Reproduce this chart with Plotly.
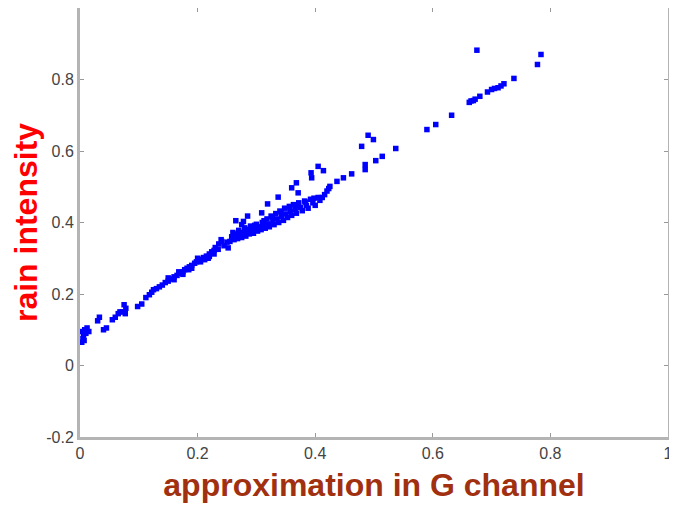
import plotly.graph_objects as go

# Estimated scatter points: approximation in G channel (x) vs rain intensity (y)
x_vals = [
    0.003, 0.005, 0.006, 0.004, 0.008, 0.010, 0.012, 0.007, 0.015,
    0.030, 0.033, 0.040, 0.045,
    0.055, 0.060, 0.065, 0.068, 0.075, 0.078, 0.072, 0.077,
    0.098, 0.105,
    0.112, 0.118, 0.122, 0.125, 0.130, 0.135, 0.140, 0.145, 0.150, 0.155,
    0.160, 0.165, 0.170, 0.175, 0.178, 0.182, 0.186, 0.190, 0.195, 0.198,
    0.202, 0.206, 0.210, 0.215, 0.220, 0.224, 0.228,
    0.150, 0.168, 0.185, 0.200, 0.212, 0.220, 0.160, 0.175, 0.190, 0.205,
    0.218, 0.228, 0.235, 0.245, 0.240, 0.250,
    0.230, 0.236, 0.241, 0.252, 0.269, 0.275,
    0.255, 0.258, 0.260, 0.262, 0.265, 0.268, 0.270, 0.272, 0.275, 0.278,
    0.280, 0.282, 0.285, 0.288, 0.290, 0.292, 0.295, 0.298, 0.300, 0.302,
    0.305, 0.308, 0.310, 0.312, 0.315, 0.318, 0.320, 0.322, 0.325, 0.328,
    0.330, 0.333, 0.335, 0.338, 0.340, 0.343, 0.346, 0.348, 0.350, 0.353,
    0.356, 0.358, 0.360, 0.363, 0.366, 0.368, 0.372, 0.375, 0.378, 0.382,
    0.385, 0.388, 0.392, 0.396, 0.400, 0.405, 0.408, 0.412, 0.416, 0.420,
    0.423,
    0.278, 0.309, 0.319, 0.337, 0.360, 0.368, 0.371, 0.393, 0.394, 0.405,
    0.414, 0.479, 0.490, 0.499, 0.265, 0.285,
    0.425, 0.437, 0.448, 0.462, 0.485, 0.485, 0.503, 0.514, 0.537,
    0.590, 0.605, 0.632, 0.662, 0.665, 0.669, 0.672, 0.680, 0.693, 0.700,
    0.705, 0.711, 0.716, 0.721, 0.738, 0.778, 0.784, 0.675,
    0.268, 0.283, 0.297, 0.313, 0.327, 0.342, 0.357, 0.370, 0.383, 0.398,
]
y_vals = [
    0.065, 0.075, 0.085, 0.095, 0.100, 0.090, 0.105, 0.070, 0.095,
    0.125, 0.135, 0.100, 0.105,
    0.128, 0.135, 0.145, 0.150, 0.170, 0.160, 0.150, 0.145,
    0.165, 0.172,
    0.190, 0.198, 0.205, 0.212, 0.215, 0.220, 0.225, 0.232, 0.236, 0.242,
    0.248, 0.252, 0.258, 0.262, 0.268, 0.272, 0.276, 0.280, 0.286, 0.290,
    0.293, 0.297, 0.302, 0.306, 0.312, 0.318, 0.322,
    0.245, 0.262, 0.268, 0.300, 0.296, 0.305, 0.240, 0.255, 0.272, 0.290,
    0.300, 0.312, 0.325, 0.335, 0.352, 0.345,
    0.330, 0.340, 0.347, 0.329, 0.366, 0.394,
    0.347, 0.360, 0.372, 0.352, 0.362, 0.355, 0.378, 0.366, 0.358, 0.372,
    0.385, 0.362, 0.375, 0.368, 0.390, 0.378, 0.370, 0.384, 0.395, 0.376,
    0.388, 0.380, 0.400, 0.392, 0.384, 0.410, 0.396, 0.388, 0.418, 0.402,
    0.394, 0.425, 0.410, 0.400, 0.432, 0.416, 0.406, 0.440, 0.424, 0.414,
    0.445, 0.430, 0.420, 0.450, 0.436, 0.426, 0.455, 0.442, 0.433, 0.460,
    0.448, 0.440, 0.465, 0.455, 0.448, 0.470, 0.462, 0.470, 0.478, 0.488,
    0.495,
    0.403, 0.427, 0.452, 0.471, 0.497, 0.511, 0.483, 0.539, 0.525, 0.557,
    0.545, 0.613, 0.644, 0.632, 0.405, 0.418,
    0.501, 0.515, 0.525, 0.536, 0.548, 0.562, 0.573, 0.585, 0.607,
    0.660, 0.674, 0.700, 0.736, 0.740, 0.741, 0.745, 0.753, 0.765, 0.772,
    0.775, 0.777, 0.782, 0.788, 0.803, 0.842, 0.870, 0.882,
    0.368, 0.381, 0.392, 0.405, 0.415, 0.428, 0.440, 0.448, 0.457, 0.468,
]

x_ticks = [0, 0.2, 0.4, 0.6, 0.8, 1]
x_ticktext = ["0", "0.2", "0.4", "0.6", "0.8", "1"]
y_ticks = [-0.2, 0, 0.2, 0.4, 0.6, 0.8]
y_ticktext = ["-0.2", "0", "0.2", "0.4", "0.6", "0.8"]

fig = go.Figure()
fig.add_trace(go.Scatter(
    x=x_vals, y=y_vals, mode="markers",
    marker=dict(symbol="square", size=5.5, color="#0000ff", line=dict(width=0)),
    showlegend=False,
))

axis_common = dict(
    showline=True, linecolor="#b4b4b4", linewidth=3, mirror="ticks",
    ticks="inside", ticklen=4, tickwidth=1, tickcolor="#999999",
    showgrid=False, zeroline=False, automargin=False,
    ticklabeloverflow="allow",
    tickfont=dict(family="Liberation Sans", size=16, color="#444444"),
)

# page body has an 8px default margin, so the figure is sized/offset to compensate
fig.update_layout(
    width=669, height=500,
    margin=dict(l=72, r=9, t=0, b=71),
    paper_bgcolor="white", plot_bgcolor="white",
    xaxis=dict(
        range=[0, 1], tickvals=x_ticks, ticktext=x_ticktext,
        title=dict(text="<b>approximation in G channel</b>", standoff=13,
                   font=dict(family="Liberation Sans", size=32, color="#a0300f")),
        **axis_common,
    ),
    yaxis=dict(
        range=[-0.2, 1.0], tickvals=y_ticks, ticktext=y_ticktext,
        title=dict(text="<b>rain intensity</b>", standoff=3,
                   font=dict(family="Liberation Sans", size=32, color="#ff0000")),
        **axis_common,
    ),
)

fig.write_html("out.html")
